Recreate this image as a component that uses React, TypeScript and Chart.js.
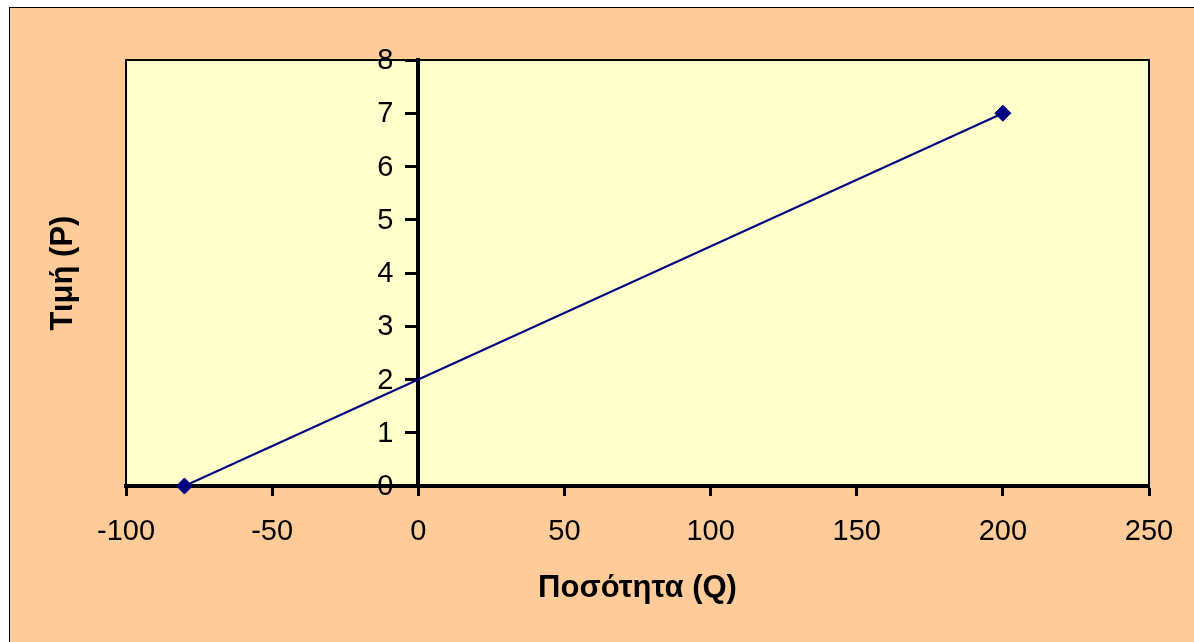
import React, { useEffect, useRef } from "react";
import { Chart, registerables } from "chart.js";

Chart.register(...registerables);

// Supply line: quantity (Q) against price (P)
const quantities: number[] = [-80, 200];
const prices: number[] = [0, 7];

const xMin = -100;
const xMax = 250;
const xStep = 50;
const yMin = 0;
const yMax = 8;
const yStep = 1;

const xTitle = "Ποσότητα (Q)";
const yTitle = "Τιμή (P)";

const FONT = "'Liberation Sans', Arial, Helvetica, sans-serif";
const OUTER_BG = "#FFCC99";
const PLOT_BG = "#FFFFCC";
const LINE_COLOR = "#000080";
const TICK_FONT_SIZE = 29;
const TITLE_FONT_SIZE = 31;
const Y_TICK_LENGTH = 11;
const Y_LABEL_GAP = 14;

const W = 1184;
const H = 634;

// Fills the plot area, outlines it, and writes the y labels left of the
// y axis that crosses at x = 0
const plotFrame = {
  id: "plotFrame",
  beforeDraw(chart: any) {
    const { ctx, chartArea } = chart;
    ctx.save();
    ctx.fillStyle = PLOT_BG;
    ctx.fillRect(chartArea.left, chartArea.top, chartArea.width, chartArea.height);
    ctx.restore();
  },
  beforeDatasetsDraw(chart: any) {
    const { ctx, chartArea } = chart;
    ctx.save();
    ctx.strokeStyle = "#000";
    ctx.lineWidth = 2;
    ctx.strokeRect(chartArea.left, chartArea.top, chartArea.width, chartArea.height);
    ctx.restore();
  },
  afterDraw(chart: any) {
    const { ctx } = chart;
    const xs = chart.scales.x;
    const ys = chart.scales.y;
    const axisX = xs.getPixelForValue(0);
    ctx.save();
    ctx.fillStyle = "#000";
    ctx.font = `${TICK_FONT_SIZE}px ${FONT}`;
    ctx.textAlign = "right";
    ctx.textBaseline = "middle";
    ys.ticks.forEach((t: any) => {
      const y = ys.getPixelForValue(t.value);
      ctx.fillText(String(t.value), axisX - Y_TICK_LENGTH - Y_LABEL_GAP, y + 1);
    });
    ctx.restore();
  },
};

export default function App() {
  const canvasRef = useRef<HTMLCanvasElement | null>(null);

  useEffect(() => {
    if (!canvasRef.current) return;
    const points = quantities.map((q, i) => ({ x: q, y: prices[i] }));
    const chart = new Chart(canvasRef.current, {
      type: "scatter",
      data: {
        datasets: [
          {
            data: points,
            showLine: true,
            borderColor: LINE_COLOR,
            borderWidth: 2,
            backgroundColor: LINE_COLOR,
            pointStyle: "rectRot",
            pointRadius: 8,
            pointBorderWidth: 1,
            pointBorderColor: LINE_COLOR,
            pointBackgroundColor: LINE_COLOR,
            clip: false as any,
          },
        ],
      },
      options: {
        responsive: false,
        animation: false,
        events: [],
        layout: { padding: { top: 52, right: 45, left: 0, bottom: 0 } },
        plugins: {
          legend: { display: false },
          tooltip: { enabled: false },
        },
        scales: {
          x: {
            type: "linear",
            position: "bottom",
            min: xMin,
            max: xMax,
            afterFit(scale: any) {
              scale.height = 156;
            },
            ticks: {
              stepSize: xStep,
              color: "#000",
              padding: 19,
              maxRotation: 0,
              font: { family: FONT, size: TICK_FONT_SIZE },
            },
            grid: {
              display: true,
              drawOnChartArea: false,
              drawTicks: true,
              tickLength: 10,
              tickWidth: 3,
              tickColor: "#000",
            },
            border: { display: true, color: "#000", width: 4 },
            title: {
              display: true,
              text: xTitle,
              color: "#000",
              padding: 35,
              font: { family: FONT, size: TITLE_FONT_SIZE, weight: "bold" },
            },
          },
          y: {
            type: "linear",
            position: { x: 0 } as any,
            min: yMin,
            max: yMax,
            ticks: {
              stepSize: yStep,
              display: false,
            },
            grid: {
              display: true,
              drawOnChartArea: false,
              drawTicks: true,
              tickLength: Y_TICK_LENGTH,
              tickWidth: 3,
              tickColor: "#000",
            },
            border: { display: true, color: "#000", width: 4 },
          },
          yTitle: {
            type: "linear",
            position: "left",
            afterFit(scale: any) {
              scale.width = 116;
            },
            ticks: { display: false },
            grid: { display: false, drawTicks: false },
            border: { display: false },
            title: {
              display: true,
              text: yTitle,
              color: "#000",
              padding: 35,
              font: { family: FONT, size: TITLE_FONT_SIZE, weight: "bold" },
            },
          },
        },
      },
      plugins: [plotFrame],
    });
    return () => chart.destroy();
  }, []);

  return (
    <div
      style={{
        position: "fixed",
        left: 9,
        top: 7,
        width: W,
        height: H,
        background: OUTER_BG,
        borderLeft: "1px solid #000",
        borderTop: "1px solid #000",
      }}
    >
      <canvas ref={canvasRef} width={W} height={H} style={{ display: "block" }} />
    </div>
  );
}
